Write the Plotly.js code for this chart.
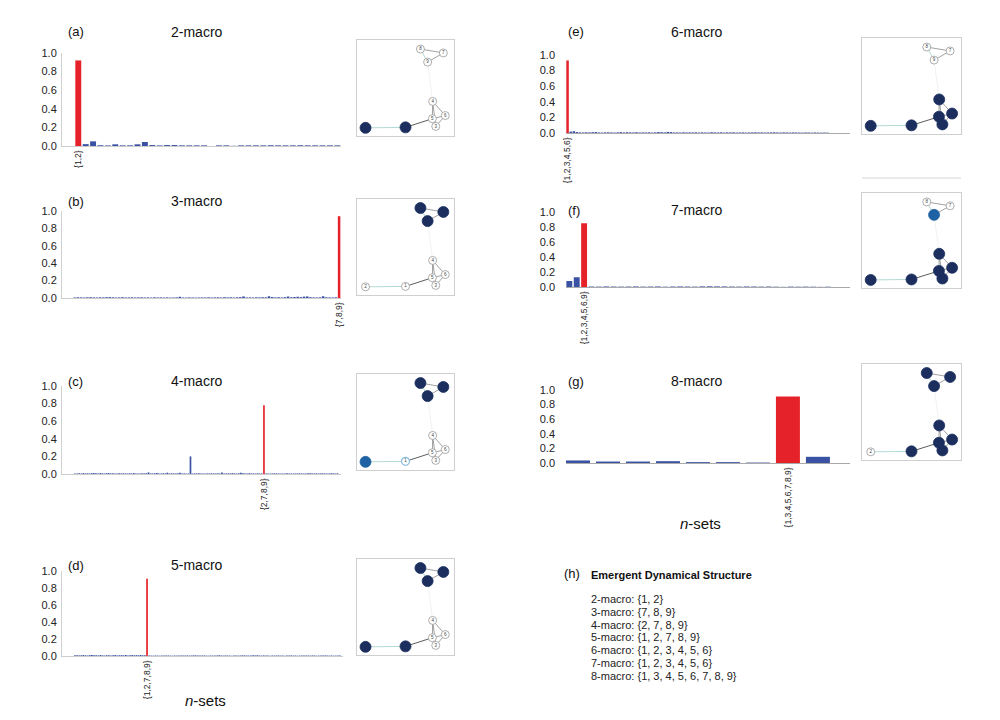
<!DOCTYPE html>
<html><head><meta charset="utf-8">
<script src="https://cdn.plot.ly/plotly-3.0.1.min.js"></script>
<style>html,body{margin:0;padding:0;background:#fff}#chart{width:1000px;height:720px}</style>
</head><body><div id="chart"></div>
<script>
// ---------- data ----------
const titles = ['2-macro','3-macro','4-macro','5-macro','6-macro','7-macro','8-macro'];
const panelLetters = ['(a)','(b)','(c)','(d)','(e)','(f)','(g)'];
const setSizes = [2,3,4,5,6,7,8];
const highlightIdx = [0,83,90,34,0,2,7];

const vals2 = [0.92,0.02,0.05,0.008,0.006,0.018,0.007,0.007,0.018,0.043,0.01,0.006,0.01,0.01,0.007,0.007,0.007,0.007,0,0.007,0.007,0.002,0.007,0.007,0.007,0.007,0.008,0.007,0.007,0.007,0.008,0.007,0.007,0.007,0.007,0.007];
const vals3 = [0.006,0.008,0.007,0.006,0.008,0.009,0.007,0.006,0.008,0.007,
 0.009,0.010,0.008,0.006,0.007,0.009,0.006,0.007,0.008,0.006,
 0.007,0.008,0.006,0.007,0.005,0.008,0.006,0.007,0.006,0.007,
 0.005,0.006,0.007,0.014,0.006,0.005,0.007,0.006,0.005,0.006,
 0.007,0.006,0.008,0.006,0.007,0.008,0.006,0.009,0.007,0.008,
 0.006,0.008,0.010,0.018,0.006,0.007,0.006,0.008,0.007,0.009,
 0.008,0.020,0.011,0.007,0.009,0.006,0.010,0.017,0.008,0.011,
 0.014,0.010,0.016,0.018,0.009,0.007,0.006,0.008,0.020,0.008,
 0.007,0.006,0.008,0.94];
const vals4 = [0.006,0.007,0.008,0.006,0.010,0.007,0.008,0.006,0.009,0.012,
 0.008,0.007,0.010,0.008,0.006,0.009,0.011,0.007,0.008,0.006,
 0.007,0.009,0.006,0.008,0.007,0.006,0.008,0.007,0.010,0.006,
 0.007,0.006,0.008,0.007,0.009,0.018,0.007,0.006,0.008,0.010,
 0.007,0.006,0.008,0.007,0.015,0.006,0.008,0.007,0.006,0.009,
 0.014,0.006,0.007,0.005,0.006,0.20,0.005,0.007,0.006,0.008,
 0.007,0.006,0.005,0.007,0.006,0.008,0.007,0.006,0.008,0.007,
 0.016,0.007,0.006,0.008,0.007,0.010,0.007,0.006,0.008,0.014,
 0.008,0.006,0.007,0.009,0.006,0.007,0.005,0.008,0.006,0.007,
 0.78,0.006,0.007,0.005,0.006,0.008,0.007,0.006,0.005,0.007,
 0.006,0.008,0.007,0.006,0.005,0.007,0.006,0.008,0.006,0.007,
 0.006,0.008,0.009,0.007,0.006,0.008,0.006,0.007,0.008,0.006,
 0.007,0.006,0.008,0.007,0.006,0.008];
const vals5 = [0.008,0.010,0.007,0.009,0.011,0.008,0.006,0.010,0.012,0.008,
 0.009,0.007,0.011,0.008,0.006,0.009,0.010,0.007,0.008,0.011,
 0.007,0.009,0.010,0.008,0.012,0.007,0.009,0.011,0.008,0.010,
 0.009,0.012,0.008,0.010,0.91,0.006,0.005,0.004,0.006,0.005,
 0.004,0.006,0.005,0.007,0.006,0.005,0.004,0.006,0.005,0.007,
 0.006,0.005,0.006,0.007,0.005,0.006,0.008,0.007,0.006,0.005,
 0.006,0.007,0.005,0.004,0.006,0.005,0.007,0.006,0.008,0.006,
 0.005,0.007,0.006,0.005,0.004,0.006,0.007,0.005,0.006,0.008,
 0.007,0.006,0.005,0.006,0.008,0.007,0.009,0.006,0.005,0.007,
 0.006,0.005,0.004,0.006,0.005,0.006,0.007,0.005,0.006,0.004,
 0.005,0.006,0.007,0.005,0.006,0.004,0.005,0.006,0.007,0.005,
 0.006,0.005,0.007,0.006,0.004,0.005,0.006,0.005,0.007,0.006,
 0.005,0.006,0.004,0.005,0.006,0.005];
const vals6 = [0.93,0.018,0.022,0.012,0.008,0.007,0.009,0.008,0.010,0.012,
 0.007,0.006,0.008,0.009,0.007,0.006,0.008,0.011,0.007,0.010,
 0.008,0.007,0.010,0.006,0.008,0.007,0.009,0.006,0.008,0.012,
 0.010,0.008,0.014,0.012,0.007,0.008,0.006,0.009,0.007,0.008,
 0.007,0.009,0.006,0.008,0.007,0.006,0.010,0.008,0.007,0.009,
 0.006,0.008,0.007,0.009,0.006,0.007,0.008,0.006,0.007,0.008,
 0.009,0.007,0.008,0.006,0.007,0.008,0.009,0.007,0.006,0.008,
 0.007,0.006,0.008,0.007,0.006,0.005,0.007,0.006,0.005,0.007,
 0.006,0.005,0.006,0.005];
const vals7 = [0.08,0.13,0.85,0.006,0.005,0.007,0.006,0.005,0.006,0.007,0.005,0.006,0.007,0.004,0.006,0.007,0.006,0.005,0.008,0.009,0.008,0.007,0.006,0.005,0.007,0.006,0.005,0.006,0.004,0.002,0.005,0.004,0.005,0.004,0.002,0.004];
const vals8 = [0.035,0.02,0.02,0.025,0.012,0.012,0.006,0.91,0.085];
const allVals = [vals2,vals3,vals4,vals5,vals6,vals7,vals8];

const yTickVals = [0,0.2,0.4,0.6,0.8,1.0];
const yTickText = ['0.0','0.2','0.4','0.6','0.8','1.0'];

const summaryTitle = 'Emergent Dynamical Structure';
const summaryLines = ['2-macro: {1, 2}','3-macro: {7, 8, 9}','4-macro: {2, 7, 8, 9}','5-macro: {1, 2, 7, 8, 9}','6-macro: {1, 2, 3, 4, 5, 6}','7-macro: {1, 2, 3, 4, 5, 6}','8-macro: {1, 3, 4, 5, 6, 7, 8, 9}'];

// network: node ids 1..9 and layout positions (normalised)
const nodeIds = [1,2,3,4,5,6,7,8,9];
const nodeX = [0.50,0.088,0.812,0.78,0.777,0.91,0.89,0.654,0.728];
const nodeY = [0.09,0.085,0.10,0.36,0.18,0.213,0.865,0.906,0.77];
const edges = [[2,1,'t'],[1,5,'k'],[4,5,'g'],[4,6,'g'],[4,3,'g'],[5,6,'g'],[5,3,'g'],[6,3,'g'],[8,7,'g'],[8,9,'t'],[9,7,'g'],[9,4,'f']];
// node states per panel: d = in structure, m = partial, o = outside, l = outside (light ring)
const netStates = [
 ['d','d','o','o','o','o','o','o','o'],
 ['o','o','o','o','o','o','d','d','d'],
 ['l','m','o','o','o','o','d','d','d'],
 ['d','d','o','o','o','o','d','d','d'],
 ['d','d','d','d','d','d','o','o','o'],
 ['d','d','d','d','d','d','o','o','m'],
 ['d','o','d','d','d','d','d','d','d']
];

// ---------- layout geometry (pixels; y given as [bottom, top]) ----------
const barBoxes = [
 {x:[62,341],y:[146,53]},{x:[62,341],y:[298,211]},{x:[62,341],y:[474,386]},{x:[62,343],y:[656,571]},
 {x:[566,850],y:[133,55]},{x:[566,850],y:[287,212]},{x:[566,850],y:[463,390]}];
const xRanges = [[-2.2,35.5],[-4,83.6],[-6.2,126.7],[-6.1,126.4],[-0.5,90.2],[-0.45,38],[-0.4,9.07]];
const netBoxes = [
 {x:[357,454],y:[136,40]},{x:[357,454],y:[295,199]},{x:[357,454],y:[470,374]},{x:[357,454],y:[655,559]},
 {x:[862,961],y:[134,38]},{x:[862,961],y:[288,193]},{x:[862,961],y:[460,364]}];
const titleY = [32,201,381,565,32,210,381];

const W=1000,H=720;
const fx = p => p/W, fy = p => 1-p/H;
const FONT = 'Liberation Sans, Arial, Helvetica, sans-serif';
const RED='#e5222a', BLUE='#3a52a3';

function combos(n,k){
  const out=[];
  const rec=(start,cur)=>{
    if(cur.length===k){out.push('{'+cur.join(',')+'}');return;}
    for(let i=start;i<=n;i++){cur.push(i);rec(i+1,cur);cur.pop();}
  };
  rec(1,[]);return out;
}

const data=[]; const layout={width:W,height:H,margin:{l:0,r:0,t:0,b:0},paper_bgcolor:'#fff',plot_bgcolor:'rgba(0,0,0,0)',showlegend:false,font:{family:FONT,color:'#222'},annotations:[],shapes:[]};

for(let p=0;p<7;p++){
  const ax=p+1, sfx= ax===1?'':String(ax);
  const cats=combos(9,setSizes[p]);
  const vals=allVals[p];
  const colors=vals.map((v,i)=> i===highlightIdx[p]?RED:BLUE);
  data.push({type:'bar',x:cats,y:vals,xaxis:'x'+sfx,yaxis:'y'+sfx,marker:{color:colors,line:{width:0}},hoverinfo:'skip'});
  const b=barBoxes[p];
  const right = p>=4;
  layout['xaxis'+sfx]={domain:[fx(b.x[0]),fx(b.x[1])],anchor:'y'+sfx,type:'category',range:xRanges[p],
    tickmode:'array',tickvals:[cats[highlightIdx[p]]],ticktext:[cats[highlightIdx[p]]],tickangle:-90,
    tickfont:{size:8.5,family:FONT,color:'#222'},ticks:'',showgrid:false,zeroline:false,
    showline:true,linecolor: right?'#aaa':'#ccc',linewidth:1,fixedrange:true};
  layout['yaxis'+sfx]={domain:[fy(b.y[0]),fy(b.y[1])],anchor:'x'+sfx,range:[0,1.0],tickmode:'array',tickvals:yTickVals,ticktext:yTickText,
    tickfont:{size:11,family:FONT,color:'#222'},ticks:'',showgrid:false,zeroline:false,
    showline:!right,linecolor:'#d0d0d0',linewidth:1,ticklabelstandoff: right?10:2,fixedrange:true};
  const cx = right?697:197, lx = right?566:66;
  layout.annotations.push({xref:'paper',yref:'paper',x:fx(cx),y:fy(titleY[p]),xanchor:'center',yanchor:'middle',showarrow:false,text:titles[p],font:{size:14,family:FONT,color:'#111'}});
  layout.annotations.push({xref:'paper',yref:'paper',x:fx(lx),y:fy(titleY[p]),xanchor:'left',yanchor:'middle',showarrow:false,text:panelLetters[p],font:{size:13,family:FONT,color:'#111'}});

  // network
  const na=p+8, nb=netBoxes[p];
  const edgeClasses={t:{c:'#a9d6cf',w:0.9},k:{c:'#4a4a4a',w:0.9},g:{c:'#7a7a7a',w:0.7},f:{c:'#e2ebea',w:0.6}};
  Object.keys(edgeClasses).forEach(cl=>{
    const ex=[],ey=[];
    edges.filter(e=>e[2]===cl).forEach(e=>{ex.push(nodeX[e[0]-1],nodeX[e[1]-1],null);ey.push(nodeY[e[0]-1],nodeY[e[1]-1],null);});
    data.push({type:'scatter',mode:'lines',x:ex,y:ey,xaxis:'x'+na,yaxis:'y'+na,line:{color:edgeClasses[cl].c,width:edgeClasses[cl].w},hoverinfo:'skip'});
  });
  const st=netStates[p];
  data.push({type:'scatter',mode:'markers+text',x:nodeX,y:nodeY,xaxis:'x'+na,yaxis:'y'+na,
    text:nodeIds.map((id,i)=> (st[i]==='o'||st[i]==='l')?String(id):''),textposition:'middle center',
    textfont:{size:4.5,family:FONT,color:'#444'},
    marker:{opacity:1,size:st.map(s=> s==='d'||s==='m'?11:8),
      color:st.map(s=> s==='d'?'#1b2e5e':(s==='m'?'#1f62a3':'#fff')),
      line:{color:st.map(s=> s==='d'?'#1b2e5e':(s==='m'?'#1f62a3':(s==='l'?'#8bbde0':'#999'))),width:st.map(s=> s==='l'?1.2:0.8)}},
    hoverinfo:'skip'});
  layout['xaxis'+na]={domain:[fx(nb.x[0]),fx(nb.x[1])],anchor:'y'+na,range:[0,1],showticklabels:false,ticks:'',showgrid:false,zeroline:false,showline:true,mirror:true,linecolor:'#cfcfcf',linewidth:1,fixedrange:true};
  layout['yaxis'+na]={domain:[fy(nb.y[0]),fy(nb.y[1])],anchor:'x'+na,range:[0,1],showticklabels:false,ticks:'',showgrid:false,zeroline:false,showline:true,mirror:true,linecolor:'#cfcfcf',linewidth:1,fixedrange:true};
}
// stray top edge above panel (f) network
layout.shapes.push({type:'line',xref:'paper',yref:'paper',x0:fx(862),x1:fx(961),y0:fy(178),y1:fy(178),line:{color:'#d5d5d5',width:1}});

// n-sets labels
[[205,700],[700,523]].forEach(q=>layout.annotations.push({xref:'paper',yref:'paper',x:fx(q[0]),y:fy(q[1]),xanchor:'center',yanchor:'middle',showarrow:false,text:'<i>n</i>-sets',font:{size:15,family:FONT,color:'#111'}}));

// summary (h)
layout.annotations.push({xref:'paper',yref:'paper',x:fx(562),y:fy(573),xanchor:'left',yanchor:'middle',showarrow:false,text:'(h)',font:{size:13,family:FONT,color:'#111'}});
layout.annotations.push({xref:'paper',yref:'paper',x:fx(589),y:fy(575),xanchor:'left',yanchor:'middle',showarrow:false,text:'<b>'+summaryTitle+'</b>',font:{size:11,family:FONT,color:'#111'}});
summaryLines.forEach((t,i)=>layout.annotations.push({xref:'paper',yref:'paper',x:fx(589),y:fy(599+i*12.8),xanchor:'left',yanchor:'middle',showarrow:false,text:t,font:{size:11,family:FONT,color:'#222'}}));

Plotly.newPlot('chart',data,layout,{staticPlot:true,displayModeBar:false});
</script></body></html>
